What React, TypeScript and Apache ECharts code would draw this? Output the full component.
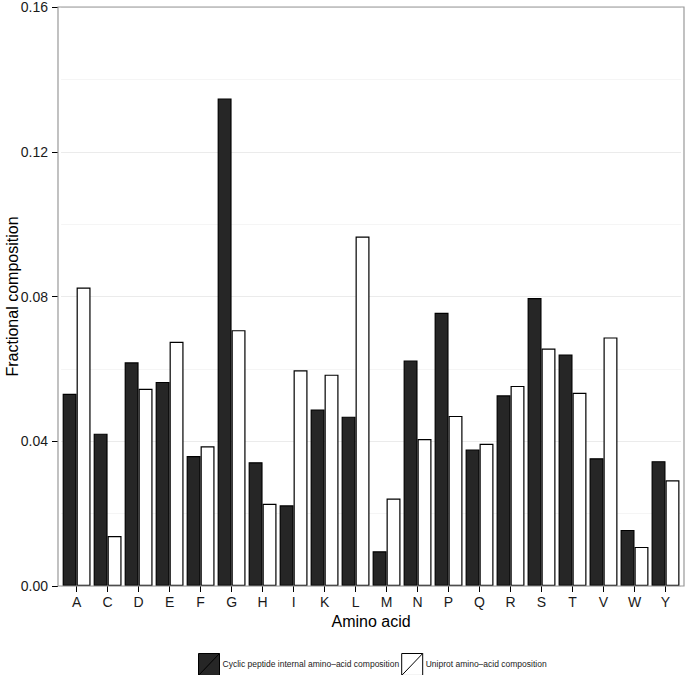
import React, { useEffect, useRef } from "react";
import * as echarts from "echarts";

const categories = ["A", "C", "D", "E", "F", "G", "H", "I", "K", "L", "M", "N", "P", "Q", "R", "S", "T", "V", "W", "Y"];
const cyclicValues = [0.0531, 0.0421, 0.0618, 0.0564, 0.0359, 0.1347, 0.0342, 0.0223, 0.0488, 0.0468, 0.0096, 0.0623, 0.0755, 0.0377, 0.0527, 0.0796, 0.064, 0.0353, 0.0155, 0.0345];
const uniprotValues = [0.0825, 0.0138, 0.0545, 0.0675, 0.0386, 0.0707, 0.0227, 0.0596, 0.0584, 0.0966, 0.0242, 0.0406, 0.047, 0.0393, 0.0553, 0.0656, 0.0534, 0.0687, 0.0108, 0.0292];
const seriesNames = ["Cyclic peptide internal amino–acid composition", "Uniprot amino–acid composition"];
const yTicks = { min: 0, max: 0.16, interval: 0.04 };

const FONT = "'Liberation Sans', Arial, Helvetica, sans-serif";

export default function App() {
  const ref = useRef<HTMLDivElement>(null);
  useEffect(() => {
    if (!ref.current) return;
    const chart = echarts.init(ref.current, null, { renderer: "svg" });
    const keyIcon = "path://M0,0 L22,0 L22,23 L0,23 Z M0,23 L22,0";
    chart.setOption({
      animation: false,
      backgroundColor: "#ffffff",
      textStyle: { fontFamily: FONT },
      grid: { left: 61.1, right: 4, top: 7, bottom: 89, containLabel: false, outerBoundsMode: "none" },
      legend: {
        left: 193,
        top: 648,
        itemWidth: 21,
        itemHeight: 24,
        itemGap: 2,
        icon: keyIcon,
        textStyle: { fontFamily: FONT, fontSize: 8.5, color: "#1a1a1a", padding: [0, 0, 0, -2] },
        data: [
          { name: seriesNames[0], icon: keyIcon, itemStyle: { color: "#262626", borderColor: "#000", borderWidth: 1 } },
          { name: seriesNames[1], icon: keyIcon, itemStyle: { color: "#ffffff", borderColor: "#000", borderWidth: 1 } },
        ],
      },
      xAxis: {
        type: "category",
        data: categories,
        boundaryGap: true,
        axisLine: { show: false },
        axisTick: { show: true, alignWithLabel: true, length: 6, lineStyle: { color: "#000", width: 1 } },
        axisLabel: { fontFamily: FONT, fontSize: 14, color: "#1a1a1a", margin: 9 },
        splitLine: { show: false },
        name: "Amino acid",
        nameLocation: "middle",
        nameGap: 27,
        nameMoveOverlap: false,
        nameTextStyle: { fontFamily: FONT, fontSize: 16, color: "#000" },
      },
      yAxis: {
        type: "value",
        min: yTicks.min,
        max: yTicks.max,
        interval: yTicks.interval,
        offset: 3.1,
        axisLine: { show: false },
        axisTick: { show: true, length: 6, lineStyle: { color: "#000", width: 1 } },
        axisLabel: { fontFamily: FONT, fontSize: 14, color: "#1a1a1a", margin: 10, formatter: (v: number) => v.toFixed(2) },
        splitLine: { show: true, lineStyle: { color: "#ebebeb", width: 1 } },
        minorTick: { show: false, splitNumber: 2 },
        minorSplitLine: { show: true, lineStyle: { color: "#f5f5f5", width: 1 } },
        name: "Fractional composition",
        nameLocation: "middle",
        nameGap: 38,
        nameMoveOverlap: false,
        nameTextStyle: { fontFamily: FONT, fontSize: 16, color: "#000" },
      },
      series: [
        {
          name: seriesNames[0],
          type: "bar",
          data: cyclicValues,
          barWidth: "45%",
          barGap: "0%",
          itemStyle: { color: "#262626", borderColor: "#000", borderWidth: 1.2 },
        },
        {
          name: seriesNames[1],
          type: "bar",
          data: uniprotValues,
          barWidth: "45%",
          barGap: "0%",
          itemStyle: { color: "#ffffff", borderColor: "#000", borderWidth: 1.2 },
        },
      ],
      graphic: [
        {
          type: "rect",
          z: 100,
          silent: true,
          shape: { x: 58, y: 7, width: 626, height: 579 },
          style: { fill: "none", stroke: "#999999", lineWidth: 1.2 },
        },
      ],
    });
    return () => chart.dispose();
  }, []);
  return <div ref={ref} style={{ position: "absolute", left: 0, top: 0, width: 685, height: 675 }} />;
}
